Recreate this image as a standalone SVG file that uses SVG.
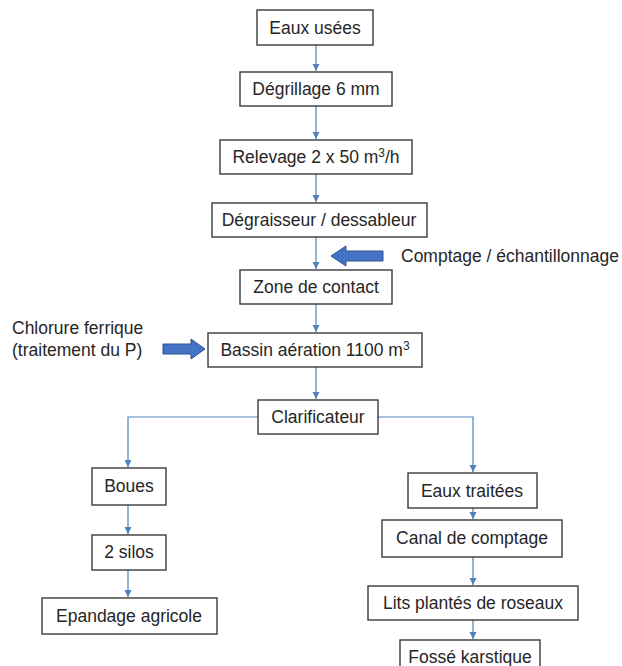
<svg xmlns="http://www.w3.org/2000/svg" width="622" height="666" viewBox="0 0 622 666">
<defs>
<style>
.box{fill:#fff;stroke:#3a3a3a;stroke-width:1.4}
.t{font-family:"Liberation Sans",Arial,sans-serif;font-size:17.5px;fill:#262626;text-anchor:middle}
.l{font-family:"Liberation Sans",Arial,sans-serif;font-size:17.5px;fill:#262626}
.c{fill:none;stroke:#4f81bd;stroke-width:1.2}
.big{fill:#4472c4;stroke:#2f528f;stroke-width:1}
</style>
<marker id="ah" markerWidth="8" markerHeight="8" refX="7" refY="4" orient="auto" markerUnits="userSpaceOnUse">
<path d="M0,0.5 L7,4 L0,7.5 Z" fill="#4f81bd"/>
</marker>
</defs>
<rect width="622" height="666" fill="#fff"/>
<g id="connectors">
<path class="c" d="M316,45 V71" marker-end="url(#ah)"/>
<path class="c" d="M316,106 V139" marker-end="url(#ah)"/>
<path class="c" d="M316,174 V202" marker-end="url(#ah)"/>
<path class="c" d="M316,237 V269" marker-end="url(#ah)"/>
<path class="c" d="M316,304 V332" marker-end="url(#ah)"/>
<path class="c" d="M316,367 V399" marker-end="url(#ah)"/>
<path class="c" d="M258,417 H128 V467" marker-end="url(#ah)"/>
<path class="c" d="M378,417 H473 V472" marker-end="url(#ah)"/>
<path class="c" d="M128,505 V534" marker-end="url(#ah)"/>
<path class="c" d="M128,570 V597" marker-end="url(#ah)"/>
<path class="c" d="M473,508 V519" marker-end="url(#ah)"/>
<path class="c" d="M473,557 V585" marker-end="url(#ah)"/>
<path class="c" d="M473,620 V639" marker-end="url(#ah)"/>
</g>
<g id="n1"><rect class="box" x="257" y="10" width="116" height="35"/><text class="t" x="315" y="34">Eaux usées</text></g>
<g id="n2"><rect class="box" x="240" y="72" width="152" height="34"/><text class="t" x="316" y="95">Dégrillage 6 mm</text></g>
<g id="n3"><rect class="box" x="220" y="140" width="192" height="34"/><text class="t" x="316" y="163">Relevage 2 x 50 m<tspan font-size="12" dy="-6">3</tspan><tspan dy="6">/h</tspan></text></g>
<g id="n4"><rect class="box" x="212" y="203" width="215" height="34"/><text class="t" x="319" y="226">Dégraisseur / dessableur</text></g>
<g id="n5"><rect class="box" x="240" y="270" width="152" height="34"/><text class="t" x="316" y="293">Zone de contact</text></g>
<g id="n6"><rect class="box" x="208" y="333" width="214" height="34"/><text class="t" x="315" y="356">Bassin aération 1100 m<tspan font-size="12" dy="-6">3</tspan></text></g>
<g id="n7"><rect class="box" x="258" y="400" width="120" height="34"/><text class="t" x="318" y="423">Clarificateur</text></g>
<g id="n8"><rect class="box" x="92" y="468" width="74" height="37"/><text class="t" x="129" y="492">Boues</text></g>
<g id="n9"><rect class="box" x="92" y="535" width="74" height="35"/><text class="t" x="129" y="558">2 silos</text></g>
<g id="n10"><rect class="box" x="42" y="598" width="175" height="36"/><text class="t" x="129" y="622">Epandage agricole</text></g>
<g id="n11"><rect class="box" x="408" y="473" width="129" height="35"/><text class="t" x="472" y="497">Eaux traitées</text></g>
<g id="n12"><rect class="box" x="382" y="520" width="180" height="37"/><text class="t" x="472" y="544">Canal de comptage</text></g>
<g id="n13"><rect class="box" x="368" y="586" width="210" height="34"/><text class="t" x="473" y="609">Lits plantés de roseaux</text></g>
<g id="n14"><rect class="box" x="400" y="640" width="140" height="34"/><text class="t" x="470" y="663">Fossé karstique</text></g>
<g id="comptage">
<path class="big" d="M331,256 L346,246 V251 H383 V261 H346 V266 Z"/>
<text class="l" x="401" y="262">Comptage / échantillonnage</text>
</g>
<g id="chlorure">
<path class="big" d="M163,344 H191 V339 L205,349 L191,359 V354 H163 Z"/>
<text class="l" x="12" y="334">Chlorure ferrique</text>
<text class="l" x="12" y="356">(traitement du P)</text>
</g>
</svg>
